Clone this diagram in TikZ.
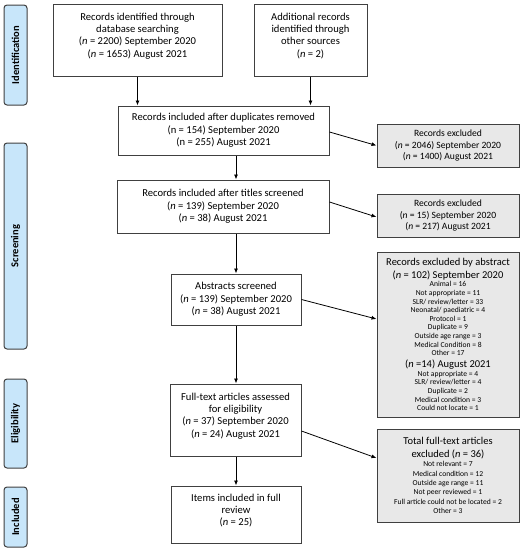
\documentclass[tikz,border=0pt]{standalone}
\usepackage{fontspec}
\setmainfont{Carlito}
\usetikzlibrary{arrows.meta}
\definecolor{phaseblue}{RGB}{200,230,250}
\definecolor{boxline}{RGB}{64,64,64}
\definecolor{exclfill}{RGB}{232,232,232}
\tikzset{
  mainbox/.style={draw=boxline, line width=1pt, fill=white, inner sep=0pt, align=flush center,
    font=\fontsize{10.6}{12.3}\selectfont},
  exclbox/.style={draw=boxline, line width=1pt, fill=exclfill, inner sep=0pt, align=flush center,
    font=\fontsize{9.6}{11.7}\selectfont},
  phasebox/.style={draw=boxline, line width=1pt, fill=phaseblue, rounded corners=3pt, inner sep=0pt},
  phasetext/.style={rotate=90, font=\bfseries\fontsize{10.5}{12}\selectfont},
  arr/.style={line width=0.8pt, -{Latex[length=5pt,width=4pt]}}
}
\begin{document}
\begin{tikzpicture}[x=1pt,y=-1pt]
\useasboundingbox (0,0) rectangle (525,550);
% phase labels
\node[phasebox, minimum width=23pt, minimum height=100pt] (pid) at (15.5,55) {};
\node[phasetext] (tid) at (pid.center) {Identification};
\node[phasebox, minimum width=23pt, minimum height=206pt] (psc) at (15.5,246) {};
\node[phasetext] (tsc) at (psc.center) {Screening};
\node[phasebox, minimum width=23pt, minimum height=89pt] (pel) at (15.5,423.5) {};
\node[phasetext] (tel) at (pel.center) {Eligibility};
\node[phasebox, minimum width=23pt, minimum height=60pt] (pin) at (15.5,517) {};
\node[phasetext] (tin) at (pin.center) {Included};
% main boxes
\node[mainbox, text width=169pt, minimum height=72pt, text depth=47pt] (db) at (137.5,40)
  {Records identified through\\ database searching\\ (\textit{n} = 2200) September 2020\\ (\textit{n} = 1653) August 2021};
\node[mainbox, text width=113pt, minimum height=72pt, text depth=47pt] (other) at (310.5,40)
  {Additional records\\ identified through\\ other sources\\ (\textit{n} = 2)};
\node[mainbox, text width=211pt, minimum height=49pt] (dup) at (223.5,130.5)
  {Records included after duplicates removed\\ (n = 154) September 2020\\ (n = 255) August 2021};
\node[mainbox, text width=212pt, minimum height=53pt] (titles) at (223,206.5)
  {Records included after titles screened\\ (\textit{n} = 139) September 2020\\ (\textit{n} = 38) August 2021};
\node[mainbox, text width=130pt, minimum height=51pt] (abs) at (236,299.5)
  {Abstracts screened\\ (\textit{n} = 139) September 2020\\ (\textit{n} = 38) August 2021};
\node[mainbox, text width=131pt, minimum height=72pt, text depth=47pt] (ft) at (235.5,420)
  {Full-text articles assessed\\ for eligibility\\ (\textit{n} = 37) September 2020\\ (\textit{n} = 24) August 2021};
\node[mainbox, text width=130pt, minimum height=57pt, text depth=34pt] (items) at (236,514.5)
  {Items included in full\\ review\\ (\textit{n} = 25)};
% exclusion boxes
\node[exclbox, text width=142pt, minimum height=43pt] (ex1) at (448,145.5)
  {Records excluded\\ (\textit{n} = 2046) September 2020\\ (\textit{n} = 1400) August 2021};
\node[exclbox, text width=142pt, minimum height=43pt] (ex2) at (448,215.5)
  {Records excluded\\ (\textit{n} = 15) September 2020\\ (\textit{n} = 217) August 2021};
\node[exclbox, text width=142pt, minimum height=165pt] (ex3) at (448,334.5)
  {{\fontsize{10.5}{12.8}\selectfont Records excluded by abstract\\ (\textit{n} = 102) September 2020\par}
   {\fontsize{7.6}{8.6}\selectfont Animal = 16\\ Not appropriate = 11\\ SLR/ review/letter = 33\\ Neonatal/ paediatric = 4\\ Protocol = 1\\ Duplicate = 9\\ Outside age range = 3\\ Medical Condition = 8\\ Other = 17\par}
   {\fontsize{10.5}{12}\selectfont (\textit{n} =14) August 2021\par}
   {\fontsize{7.6}{8.6}\selectfont Not appropriate = 4\\ SLR/ review/letter = 4\\ Duplicate = 2\\ Medical condition = 3\\ Could not locate = 1\par}};
\node[exclbox, text width=142pt, minimum height=93pt] (ex4) at (448,475.5)
  {{\fontsize{10.5}{12.8}\selectfont Total full-text articles\\ excluded (\textit{n} = 36)\par}
   {\fontsize{7.6}{9.3}\selectfont Not relevant = 7\\ Medical condition = 12\\ Outside age range = 11\\ Not peer reviewed = 1\\ Full article could not be located = 2\\ Other = 3\par}};
% connectors
\draw[arr] (db.south) -- (db.south |- dup.north);
\draw[arr] (other.south) -- (other.south |- dup.north);
\draw[arr] (dup.south -| abs.north) -- (titles.north -| abs.north);
\draw[arr] (titles.south -| abs.north) -- (abs.north);
\draw[arr] (abs.south) -- (ft.north -| abs.south);
\draw[arr] (ft.south -| items.north) -- (items.north);
\draw[arr] ([yshift=-1.5pt]dup.east) -- (ex1.west);
\draw[arr] ([yshift=4.5pt]titles.east) -- ([yshift=-1.5pt]ex2.west);
\draw[arr] (abs.east) -- ([yshift=15.5pt]ex3.west);
\draw[arr] ([yshift=-11pt]ft.east) -- ([yshift=17.5pt]ex4.west);
\end{tikzpicture}
\end{document}
